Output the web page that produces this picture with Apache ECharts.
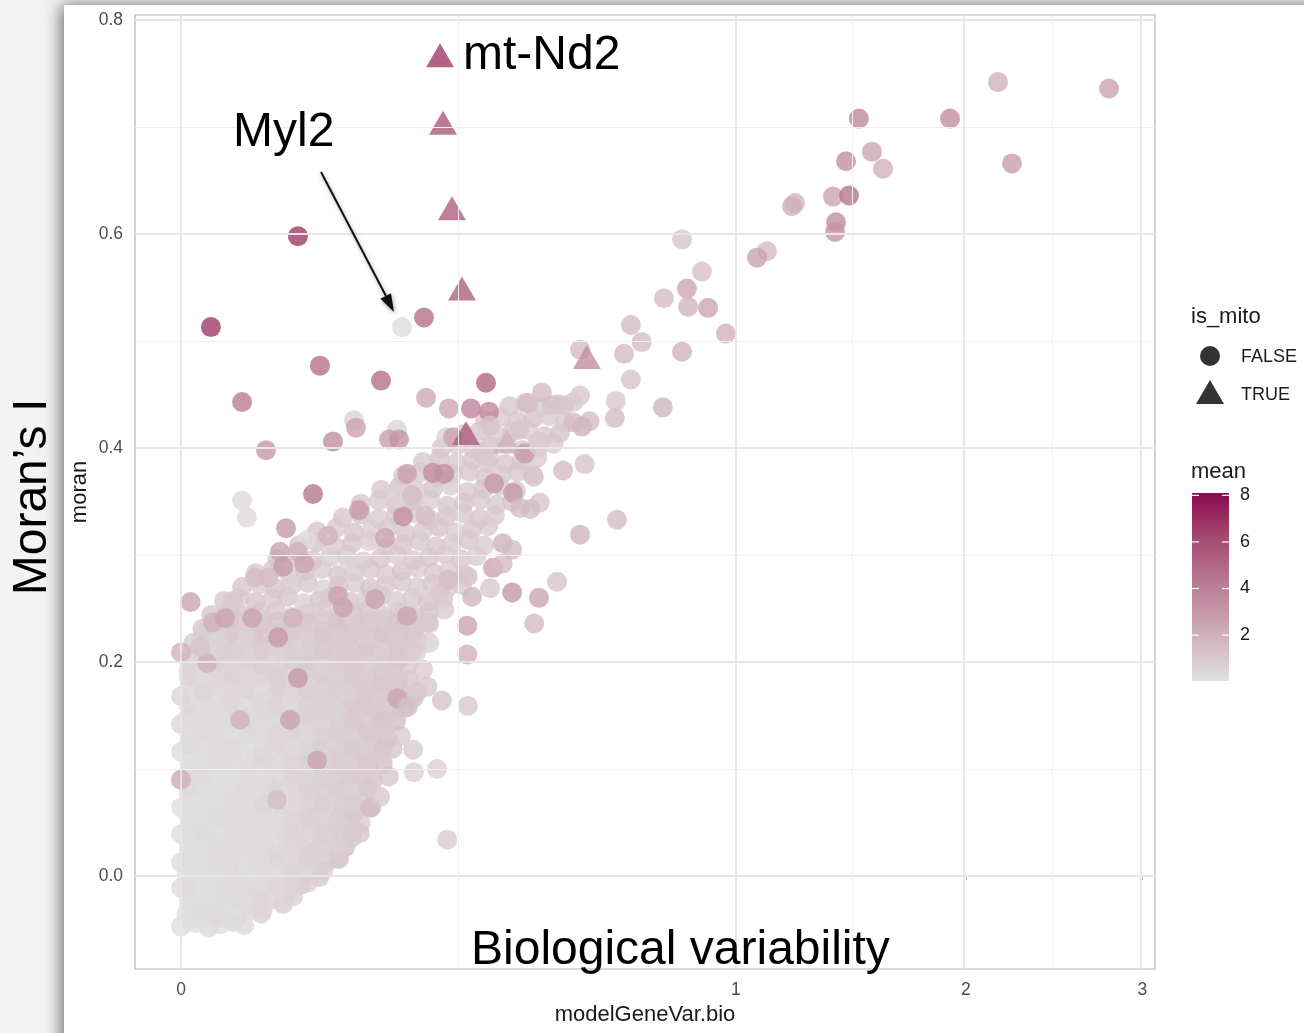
<!DOCTYPE html>
<html>
<head>
<meta charset="utf-8">
<script src="https://cdn.jsdelivr.net/npm/echarts@6/dist/echarts.min.js"></script>
<style>html,body{margin:0;padding:0;background:#f3f3f3}#chart{width:1304px;height:1033px}</style>
</head>
<body>
<div id="chart"></div>
<script>
// [modelGeneVar.bio, moran, mean]
const cloudGenes = [
[0,-0.047,0.2],[0.0007,-0.044,0.1],[0.0025,-0.048,0.3],[0.005,-0.045,0.2],[0.009,-0.043,0.4],[0.013,-0.046,0.3],
[0.0001,-0.036,0.1],[0.0012,-0.033,0.2],[0.0032,-0.037,0.2],[0.0062,-0.034,0.3],[0.0105,-0.036,0.5],[0.016,-0.032,0.3],[0.021,-0.035,0.6],
[0.0002,-0.022,0.2],[0.0016,-0.026,0.1],[0.0041,-0.023,0.3],[0.0078,-0.025,0.2],[0.0128,-0.021,0.4],[0.019,-0.024,0.6],[0.026,-0.022,0.5],[0.034,-0.026,0.9],
[0,-0.011,0.2],[0.0009,-0.014,0.3],[0.0026,-0.01,0.1],[0.0052,-0.013,0.2],[0.0093,-0.009,0.4],[0.0148,-0.012,0.3],[0.0212,-0.015,0.5],[0.029,-0.01,0.7],[0.038,-0.013,0.6],[0.047,-0.008,1.0],
[0.0001,0.002,0.1],[0.0013,-0.002,0.2],[0.0031,0.001,0.3],[0.0066,-0.001,0.2],[0.011,0.003,0.5],[0.0172,0.0,0.3],[0.0243,0.002,0.6],[0.0318,-0.002,0.4],[0.041,0.001,0.8],[0.052,0.004,0.7],[0.062,-0.001,1.2],
[0,0.013,0.2],[0.0005,0.01,0.3],[0.0021,0.015,0.1],[0.0046,0.011,0.3],[0.0081,0.014,0.2],[0.0132,0.009,0.5],[0.0192,0.012,0.4],[0.0268,0.016,0.3],[0.0362,0.011,0.6],[0.0458,0.014,0.9],[0.057,0.01,0.7],[0.069,0.013,1.0],[0.081,0.016,1.3],
[0.0002,0.024,0.1],[0.0015,0.027,0.2],[0.0036,0.023,0.4],[0.0066,0.026,0.2],[0.0108,0.022,0.3],[0.0163,0.027,0.5],[0.0231,0.025,0.3],[0.0309,0.022,0.7],[0.0398,0.027,0.5],[0.0502,0.024,0.8],[0.0618,0.026,1.1],[0.0745,0.023,0.6],[0.0875,0.027,1.4],
[0,0.039,0.2],[0.0008,0.036,0.1],[0.0024,0.04,0.3],[0.0051,0.037,0.2],[0.0089,0.041,0.4],[0.0138,0.035,0.3],[0.0201,0.038,0.6],[0.0278,0.041,0.4],[0.0369,0.036,0.5],[0.0472,0.039,0.9],[0.0583,0.042,0.7],[0.0702,0.037,1.2],[0.0828,0.04,0.8],[0.0951,0.036,1.0],
[0.0003,0.051,0.3],[0.0018,0.048,0.1],[0.0041,0.052,0.2],[0.0074,0.049,0.4],[0.0121,0.053,0.2],[0.0178,0.047,0.5],[0.0249,0.05,0.3],[0.0332,0.053,0.6],[0.0428,0.048,0.5],[0.0538,0.052,1.1],[0.0661,0.049,0.7],[0.0789,0.051,0.9],[0.0921,0.054,1.3],[0.1048,0.049,0.8],
[0,0.064,0.1],[0.001,0.061,0.2],[0.003,0.066,0.3],[0.006,0.062,0.2],[0.0102,0.065,0.3],[0.0153,0.06,0.4],[0.0221,0.063,0.2],[0.0298,0.067,0.5],[0.0391,0.061,0.7],[0.0489,0.064,0.4],[0.0601,0.066,0.9],[0.0722,0.062,0.6],[0.0858,0.065,1.2],[0.1002,0.061,0.9],[0.1175,0.064,1.5],
[0.0002,0.077,0.2],[0.0021,0.074,0.3],[0.0046,0.078,0.1],[0.0081,0.075,0.3],[0.0131,0.079,0.4],[0.0192,0.073,0.2],[0.0268,0.076,0.6],[0.0352,0.079,0.4],[0.0451,0.074,0.8],[0.0562,0.077,0.5],[0.0681,0.08,1.0],[0.0812,0.075,0.7],[0.0948,0.078,1.1],[0.1102,0.073,0.9],
[0,0.09,0.2],[0.0011,0.087,0.1],[0.0031,0.091,0.3],[0.0062,0.088,0.2],[0.0108,0.092,0.5],[0.0171,0.086,0.3],[0.0241,0.089,0.4],[0.0319,0.093,0.7],[0.0412,0.087,0.5],[0.0511,0.09,0.6],[0.0628,0.092,1.1],[0.0762,0.088,0.8],[0.0901,0.091,1.3],[0.1048,0.087,0.9],[0.1198,0.09,1.2],[0.1402,0.093,1.0],
[0.0004,0.101,0.3],[0.0022,0.104,0.2],[0.0051,0.1,0.1],[0.0092,0.103,0.4],[0.0142,0.099,0.3],[0.0209,0.105,0.5],[0.0289,0.101,0.3],[0.0381,0.104,0.6],[0.0482,0.099,0.8],[0.0591,0.103,0.5],[0.0712,0.106,1.0],[0.0851,0.1,0.7],[0.0998,0.104,1.2],[0.1151,0.101,0.9],[0.1322,0.105,1.4],
[0,0.116,0.2],[0.0012,0.113,0.1],[0.0036,0.117,0.3],[0.0071,0.114,0.2],[0.0119,0.118,0.4],[0.0182,0.112,0.6],[0.0258,0.115,0.3],[0.0342,0.119,0.5],[0.0441,0.113,0.9],[0.0552,0.116,0.6],[0.0671,0.118,0.8],[0.0802,0.114,1.3],[0.0941,0.117,0.7],[0.1101,0.113,1.1],[0.1258,0.116,0.9],[0.1452,0.119,1.2],
[0.0003,0.127,0.3],[0.0021,0.13,0.2],[0.0049,0.126,0.4],[0.0095,0.129,0.2],[0.0151,0.131,0.5],[0.0219,0.125,0.3],[0.0301,0.128,0.7],[0.0398,0.131,0.4],[0.0502,0.126,0.6],[0.0621,0.129,1.0],[0.0752,0.132,0.7],[0.0889,0.127,1.2],[0.1041,0.13,0.8],[0.1201,0.126,1.0],[0.1382,0.129,1.3],[0.1571,0.131,0.9],
[0,0.142,0.4],[0.001,0.139,0.2],[0.0031,0.143,0.3],[0.0066,0.14,0.5],[0.0112,0.144,0.2],[0.0171,0.138,0.4],[0.0249,0.141,0.6],[0.0338,0.144,0.3],[0.0442,0.139,0.8],[0.0551,0.142,0.5],[0.0679,0.145,1.1],[0.0821,0.14,0.7],[0.0968,0.143,1.4],[0.1131,0.138,0.9],[0.1302,0.142,1.1],[0.1501,0.145,1.5],
[0.0005,0.153,0.3],[0.0025,0.156,0.5],[0.0056,0.152,0.2],[0.0101,0.155,0.4],[0.0158,0.157,0.3],[0.0231,0.151,0.6],[0.0311,0.154,0.4],[0.0409,0.157,0.7],[0.0521,0.152,0.5],[0.0641,0.155,0.9],[0.0771,0.158,0.6],[0.0919,0.153,1.2],[0.1081,0.156,0.8],[0.1252,0.152,1.4],[0.1431,0.155,1.0],[0.1631,0.157,1.2],
[0,0.168,0.5],[0.0015,0.165,0.3],[0.0041,0.169,0.2],[0.0079,0.166,0.6],[0.0131,0.17,0.3],[0.0199,0.164,0.5],[0.0281,0.167,0.8],[0.0371,0.17,0.4],[0.0469,0.165,0.7],[0.0582,0.168,0.5],[0.0712,0.171,1.0],[0.0851,0.166,0.7],[0.0999,0.169,1.3],[0.1162,0.165,0.9],[0.1341,0.168,1.1],[0.1548,0.17,0.8],[0.1752,0.166,1.3],
[0.0008,0.179,0.4],[0.003,0.182,0.6],[0.0066,0.178,0.3],[0.0111,0.181,0.5],[0.0171,0.183,0.8],[0.0251,0.177,0.4],[0.0341,0.18,0.6],[0.0441,0.183,0.9],[0.0551,0.178,0.5],[0.0682,0.181,1.1],[0.0821,0.184,0.7],[0.0971,0.179,1.2],[0.1131,0.182,0.9],[0.1311,0.178,1.4],[0.1502,0.181,1.0],[0.1701,0.183,1.2],
[0.0002,0.192,0.6],[0.0021,0.195,0.4],[0.0051,0.191,0.8],[0.0095,0.194,0.5],[0.0151,0.196,0.7],[0.0221,0.19,0.4],[0.0311,0.193,0.9],[0.0411,0.196,0.6],[0.0521,0.191,1.0],[0.0651,0.194,0.7],[0.0791,0.197,1.2],[0.0941,0.192,0.8],[0.1102,0.195,1.1],[0.1281,0.191,0.9],[0.1471,0.194,1.3],[0.1682,0.197,1.0],[0.1902,0.193,0.8],
[0.001,0.205,0.7],[0.0035,0.208,0.5],[0.0071,0.204,0.9],[0.0121,0.207,0.6],[0.0191,0.209,0.8],[0.0271,0.203,0.5],[0.0361,0.206,1.0],[0.0471,0.209,0.7],[0.0591,0.204,1.1],[0.0721,0.207,0.8],[0.0871,0.21,1.3],[0.1031,0.205,0.9],[0.1201,0.208,1.2],[0.1391,0.204,0.8],[0.1602,0.207,1.0],[0.1801,0.21,0.7],
[0.0005,0.218,0.9],[0.0025,0.221,0.6],[0.006,0.217,1.1],[0.011,0.22,0.7],[0.0171,0.222,1.3],[0.0251,0.216,0.8],[0.0341,0.219,1.0],[0.0441,0.222,0.6],[0.0561,0.217,1.2],[0.0701,0.22,0.9],[0.0851,0.223,1.4],[0.1001,0.218,1.0],[0.1181,0.221,1.2],[0.1371,0.217,0.8],[0.1581,0.22,1.1],[0.1801,0.222,0.9],[0.2001,0.218,0.7],
[0.0015,0.231,1.0],[0.0045,0.234,0.7],[0.0091,0.23,1.2],[0.0151,0.233,0.8],[0.0221,0.235,1.1],[0.0311,0.229,0.6],[0.0421,0.232,1.0],[0.0541,0.235,0.7],[0.0671,0.23,1.3],[0.0821,0.233,0.9],[0.0981,0.236,1.2],[0.1161,0.231,0.8],[0.1351,0.234,1.1],[0.1561,0.23,0.9],[0.1781,0.233,1.0],[0.2001,0.236,0.8],
[0.003,0.244,1.1],[0.0071,0.247,0.8],[0.0131,0.243,1.3],[0.0201,0.246,0.9],[0.0291,0.248,1.0],[0.0391,0.242,0.7],[0.0511,0.245,1.2],[0.0641,0.248,0.8],[0.0791,0.243,1.1],[0.0951,0.246,0.9],[0.1131,0.249,1.3],[0.1331,0.244,0.8],[0.1541,0.247,1.0],[0.1771,0.243,0.9],[0.2001,0.246,1.1],[0.2251,0.249,0.8],
[0.006,0.257,1.0],[0.0111,0.26,0.8],[0.0181,0.256,1.2],[0.0271,0.259,0.9],[0.0371,0.261,1.1],[0.0491,0.255,0.7],[0.0621,0.258,1.0],[0.0771,0.261,0.8],[0.0931,0.256,1.2],[0.1111,0.259,0.9],[0.1301,0.262,1.1],[0.1511,0.257,0.8],[0.1741,0.26,1.0],[0.1981,0.256,1.2],[0.2231,0.259,0.9],
[0.0121,0.27,1.1],[0.0201,0.273,0.8],[0.0291,0.269,1.2],[0.0401,0.272,0.9],[0.0521,0.274,1.0],[0.0661,0.268,0.7],[0.0811,0.271,1.1],[0.0981,0.274,0.8],[0.1161,0.269,1.2],[0.1361,0.272,0.9],[0.1581,0.275,1.0],[0.1811,0.27,0.8],[0.2051,0.273,1.1],[0.2301,0.269,0.9],[0.2561,0.272,1.0],
[0.0181,0.283,1.0],[0.0271,0.286,1.2],[0.0381,0.282,0.8],[0.0501,0.285,1.1],[0.0641,0.287,0.9],[0.0801,0.281,1.2],[0.0971,0.284,0.8],[0.1161,0.287,1.0],[0.1361,0.282,0.9],[0.1581,0.285,1.2],[0.1821,0.288,0.8],[0.2071,0.283,1.0],[0.2331,0.286,0.9],[0.2601,0.282,1.1],
[0.0301,0.296,1.1],[0.0421,0.299,0.9],[0.0561,0.295,1.2],[0.0721,0.298,0.8],[0.0891,0.3,1.0],[0.1081,0.294,0.9],[0.1291,0.297,1.1],[0.1511,0.3,0.8],[0.1751,0.295,1.0],[0.2001,0.298,1.2],[0.2261,0.301,0.9],[0.2541,0.296,1.0],[0.2831,0.299,0.8],
[0.0451,0.309,1.0],[0.0601,0.312,1.2],[0.0771,0.308,0.9],[0.0951,0.311,1.1],[0.1151,0.313,0.8],[0.1371,0.307,1.0],[0.1601,0.31,1.2],[0.1851,0.313,0.9],[0.2111,0.308,1.0],[0.2391,0.311,0.8],[0.2681,0.314,1.1],[0.2981,0.309,0.9],
[0.0601,0.322,1.1],[0.0781,0.325,0.9],[0.0971,0.321,1.2],[0.1181,0.324,0.8],[0.1401,0.326,1.0],[0.1641,0.32,1.1],[0.1901,0.323,0.9],[0.2171,0.326,1.2],[0.2451,0.321,0.8],[0.2751,0.324,1.0],[0.3061,0.327,0.9],
[0.0851,0.335,1.0],[0.1051,0.338,1.2],[0.1271,0.334,0.9],[0.1501,0.337,1.1],[0.1751,0.339,0.8],[0.2011,0.333,1.0],[0.2291,0.336,1.2],[0.2581,0.339,0.9],[0.2891,0.334,1.1],[0.3201,0.337,0.8],
[0.1051,0.348,1.1],[0.1271,0.351,0.9],[0.1501,0.347,1.0],[0.1751,0.35,1.2],[0.2021,0.352,0.8],[0.2301,0.346,1.0],[0.2601,0.349,1.1],[0.2911,0.352,0.9],[0.3231,0.347,1.0],[0.3561,0.35,1.2],
[0.1301,0.361,1.0],[0.1551,0.364,1.2],[0.1801,0.36,0.9],[0.2071,0.363,1.1],[0.2361,0.365,0.8],[0.2661,0.359,1.0],[0.2971,0.362,1.2],[0.3301,0.365,0.9],[0.3641,0.36,1.1],
[0.1601,0.374,1.1],[0.1851,0.377,0.9],[0.2121,0.373,1.2],[0.2401,0.376,0.8],[0.2701,0.378,1.0],[0.3011,0.372,1.1],[0.3341,0.375,0.9],[0.3681,0.378,1.0],[0.4041,0.373,1.2],
[0.1901,0.387,1.0],[0.2171,0.39,1.2],[0.2461,0.386,0.9],[0.2761,0.389,1.1],[0.3081,0.391,0.8],[0.3411,0.385,1.0],[0.3761,0.388,1.2],[0.4121,0.391,0.9],
[0.2201,0.4,1.1],[0.2481,0.403,0.9],[0.2781,0.399,1.0],[0.3101,0.402,1.2],[0.3431,0.404,0.8],[0.3781,0.398,1.0],[0.4141,0.401,1.1],[0.4501,0.404,0.9],
[0.2601,0.413,1.0],[0.2901,0.416,1.2],[0.3221,0.412,0.9],[0.3561,0.415,1.1],[0.3911,0.417,0.8],[0.4281,0.411,1.0],[0.4661,0.414,1.2],
[0.3001,0.426,1.1],[0.3331,0.429,0.9],[0.3671,0.425,1.0],[0.4031,0.428,1.2],[0.4401,0.43,0.8],[0.4781,0.424,1.0],
[0.3501,0.439,1.0],[0.3851,0.442,1.2],[0.4221,0.438,0.9],[0.4601,0.441,1.1],[0.5001,0.443,0.8]
];
const cloudGenesB = [
[0.0002,-0.040,0.2],[0.0016,-0.041,0.1],[0.0045,-0.039,0.3],[0.0088,-0.042,0.2],
[0.0002,-0.029,0.1],[0.0016,-0.031,0.3],[0.0045,-0.028,0.2],[0.0088,-0.030,0.1],[0.0146,-0.027,0.3],[0.0219,-0.030,0.4],
[0.0002,-0.017,0.2],[0.0016,-0.019,0.1],[0.0045,-0.016,0.2],[0.0088,-0.02,0.3],[0.0146,-0.017,0.2],[0.0219,-0.019,0.4],[0.0306,-0.016,0.3],[0.0408,-0.019,0.6],
[0.0002,-0.006,0.3],[0.0016,-0.004,0.1],[0.0045,-0.007,0.2],[0.0088,-0.005,0.2],[0.0146,-0.008,0.3],[0.0219,-0.005,0.2],[0.0306,-0.007,0.4],[0.0408,-0.004,0.5],[0.0524,-0.006,0.7],
[0.0002,0.007,0.1],[0.0016,0.005,0.2],[0.0045,0.008,0.2],[0.0088,0.005,0.3],[0.0146,0.007,0.1],[0.0219,0.004,0.3],[0.0306,0.007,0.2],[0.0408,0.005,0.5],[0.0524,0.008,0.4],[0.0655,0.005,0.8],
[0.0002,0.018,0.2],[0.0016,0.02,0.1],[0.0045,0.017,0.3],[0.0088,0.02,0.2],[0.0146,0.018,0.2],[0.0219,0.021,0.3],[0.0306,0.017,0.4],[0.0408,0.02,0.3],[0.0524,0.018,0.6],[0.0655,0.021,0.5],[0.0801,0.018,0.9],
[0.0002,0.03,0.1],[0.0016,0.032,0.2],[0.0045,0.029,0.2],[0.0088,0.033,0.3],[0.0146,0.03,0.2],[0.0219,0.032,0.2],[0.0306,0.029,0.3],[0.0408,0.033,0.4],[0.0524,0.03,0.5],[0.0655,0.032,0.6],[0.0801,0.029,0.7],
[0.0002,0.045,0.2],[0.0016,0.043,0.3],[0.0045,0.046,0.1],[0.0088,0.043,0.2],[0.0146,0.045,0.3],[0.0219,0.042,0.2],[0.0306,0.046,0.3],[0.0408,0.043,0.5],[0.0524,0.045,0.4],[0.0655,0.042,0.6],[0.0801,0.046,0.8],[0.0961,0.043,0.9],
[0.0002,0.056,0.1],[0.0016,0.058,0.2],[0.0045,0.055,0.3],[0.0088,0.058,0.2],[0.0146,0.056,0.2],[0.0219,0.059,0.3],[0.0306,0.055,0.2],[0.0408,0.058,0.4],[0.0524,0.056,0.6],[0.0655,0.059,0.5],[0.0801,0.055,0.7],[0.0961,0.058,1.0],
[0.0002,0.071,0.2],[0.0016,0.069,0.1],[0.0045,0.072,0.2],[0.0088,0.069,0.3],[0.0146,0.071,0.2],[0.0219,0.068,0.4],[0.0306,0.072,0.3],[0.0408,0.069,0.3],[0.0524,0.071,0.5],[0.0655,0.068,0.7],[0.0801,0.072,0.6],[0.0961,0.069,0.8],
[0.0002,0.082,0.3],[0.0016,0.084,0.2],[0.0045,0.081,0.1],[0.0088,0.084,0.2],[0.0146,0.082,0.3],[0.0219,0.085,0.2],[0.0306,0.081,0.4],[0.0408,0.084,0.3],[0.0524,0.082,0.6],[0.0655,0.085,0.5],[0.0801,0.081,0.8],[0.0961,0.084,0.6],[0.1136,0.082,1.0],
[0.0002,0.097,0.2],[0.0016,0.095,0.3],[0.0045,0.098,0.2],[0.0088,0.095,0.1],[0.0146,0.097,0.3],[0.0219,0.094,0.2],[0.0306,0.098,0.3],[0.0408,0.095,0.5],[0.0524,0.097,0.4],[0.0655,0.094,0.6],[0.0801,0.098,0.7],[0.0961,0.095,0.9],[0.1136,0.097,0.8],
[0.0002,0.108,0.1],[0.0016,0.11,0.2],[0.0045,0.107,0.3],[0.0088,0.11,0.2],[0.0146,0.108,0.2],[0.0219,0.111,0.4],[0.0306,0.107,0.3],[0.0408,0.11,0.4],[0.0524,0.108,0.6],[0.0655,0.111,0.5],[0.0801,0.107,0.8],[0.0961,0.11,0.7],[0.1136,0.108,1.0],
[0.0002,0.123,0.3],[0.0016,0.121,0.2],[0.0045,0.124,0.2],[0.0088,0.121,0.3],[0.0146,0.123,0.1],[0.0219,0.12,0.3],[0.0306,0.124,0.4],[0.0408,0.121,0.3],[0.0524,0.123,0.5],[0.0655,0.12,0.7],[0.0801,0.124,0.6],[0.0961,0.121,0.9],[0.1136,0.123,0.8],[0.1325,0.12,1.1],
[0.0002,0.134,0.2],[0.0016,0.136,0.3],[0.0045,0.133,0.2],[0.0088,0.136,0.1],[0.0146,0.134,0.3],[0.0219,0.137,0.2],[0.0306,0.133,0.4],[0.0408,0.136,0.5],[0.0524,0.134,0.4],[0.0655,0.137,0.6],[0.0801,0.133,0.8],[0.0961,0.136,0.7],[0.1136,0.134,1.0],[0.1325,0.137,0.9],
[0.0002,0.149,0.3],[0.0016,0.147,0.2],[0.0045,0.15,0.3],[0.0088,0.147,0.2],[0.0146,0.149,0.4],[0.0219,0.146,0.3],[0.0306,0.15,0.3],[0.0408,0.147,0.5],[0.0524,0.149,0.6],[0.0655,0.146,0.5],[0.0801,0.15,0.7],[0.0961,0.147,0.9],[0.1136,0.149,0.8],[0.1325,0.146,1.1],
[0.0002,0.16,0.4],[0.0016,0.162,0.2],[0.0045,0.159,0.3],[0.0088,0.162,0.4],[0.0146,0.16,0.2],[0.0219,0.163,0.4],[0.0306,0.159,0.5],[0.0408,0.162,0.3],[0.0524,0.16,0.6],[0.0655,0.163,0.7],[0.0801,0.159,0.6],[0.0961,0.162,0.9],[0.1136,0.16,1.0],[0.1325,0.163,0.8],[0.1529,0.16,1.1],
[0.0002,0.175,0.3],[0.0016,0.173,0.5],[0.0045,0.176,0.3],[0.0088,0.173,0.4],[0.0146,0.175,0.5],[0.0219,0.172,0.3],[0.0306,0.176,0.6],[0.0408,0.173,0.4],[0.0524,0.175,0.7],[0.0655,0.172,0.6],[0.0801,0.176,0.8],[0.0961,0.173,0.7],[0.1136,0.175,1.0],[0.1325,0.172,0.9],[0.1529,0.176,1.0],
[0.0002,0.186,0.5],[0.0016,0.188,0.3],[0.0045,0.185,0.4],[0.0088,0.188,0.6],[0.0146,0.186,0.4],[0.0219,0.189,0.5],[0.0306,0.185,0.7],[0.0408,0.188,0.5],[0.0524,0.186,0.6],[0.0655,0.189,0.8],[0.0801,0.185,0.7],[0.0961,0.188,0.9],[0.1136,0.186,0.8],[0.1325,0.189,1.0],[0.1529,0.185,0.9],
[0.0002,0.201,0.6],[0.0016,0.199,0.4],[0.0045,0.202,0.7],[0.0088,0.199,0.5],[0.0146,0.201,0.6],[0.0219,0.198,0.8],[0.0306,0.202,0.5],[0.0408,0.199,0.7],[0.0524,0.201,0.9],[0.0655,0.198,0.6],[0.0801,0.202,0.8],[0.0961,0.199,1.0],[0.1136,0.201,0.7],[0.1325,0.198,0.9],[0.1529,0.202,1.1],
[0.0016,0.212,0.7],[0.0045,0.214,0.5],[0.0088,0.211,0.8],[0.0146,0.214,0.6],[0.0219,0.212,0.9],[0.0306,0.215,0.6],[0.0408,0.211,0.8],[0.0524,0.214,0.7],[0.0655,0.212,1.0],[0.0801,0.215,0.8],[0.0961,0.211,0.9],[0.1136,0.214,1.1],[0.1325,0.212,0.8],[0.1529,0.215,1.0],[0.1747,0.211,0.9],
[0.0016,0.227,0.8],[0.0045,0.225,0.6],[0.0088,0.228,0.9],[0.0146,0.225,0.7],[0.0219,0.227,1.0],[0.0306,0.224,0.7],[0.0408,0.228,0.9],[0.0524,0.225,0.8],[0.0655,0.227,1.1],[0.0801,0.224,0.8],[0.0961,0.228,1.0],[0.1136,0.225,0.9],[0.1325,0.227,1.2],[0.1529,0.224,0.9],[0.1747,0.228,1.0],
[0.0045,0.238,0.8],[0.0088,0.24,1.0],[0.0146,0.237,0.7],[0.0219,0.24,0.9],[0.0306,0.238,1.1],[0.0408,0.241,0.8],[0.0524,0.237,1.0],[0.0655,0.24,0.9],[0.0801,0.238,1.2],[0.0961,0.241,0.8],[0.1136,0.237,1.0],[0.1325,0.24,0.9],[0.1529,0.238,1.1],[0.1747,0.241,0.9],[0.198,0.237,1.0]
];
const flaggedGenes = [
[2.796,0.736,2.6],[2.167,0.742,2.0],[2.242,0.666,2.8],[1.920,0.708,3.4],[1.492,0.708,3.6],[1.550,0.677,2.4],
[1.600,0.661,2.0],[1.436,0.668,3.4],[1.380,0.635,2.6],[1.449,0.636,4.4],[1.393,0.611,3.4],[1.389,0.602,3.2],
[1.224,0.629,1.8],[1.212,0.626,2.0],[1.115,0.584,1.6],[1.077,0.578,2.6],[0.815,0.595,1.2],[0.881,0.565,1.4],
[0.831,0.549,2.4],[0.757,0.540,1.5],[0.835,0.532,1.8],[0.902,0.531,2.4],[0.964,0.507,2.0],[0.815,0.490,2.0],
[0.689,0.499,1.5],[0.657,0.515,1.5],[0.637,0.488,1.5],[0.657,0.464,1.2],[0.614,0.444,1.0],[0.611,0.428,1.5],
[0.754,0.438,1.8],
[0.517,0.492,1.6],[0.542,0.425,1.5],[0.499,0.424,1.5],[0.522,0.420,1.8],[0.517,0.449,1.0],[0.447,0.440,1.2],
[0.476,0.440,1.2],[0.423,0.452,1.5],[0.391,0.442,1.5],[0.414,0.406,1.0],[0.371,0.417,1.2],[0.384,0.395,3.0],
[0.416,0.402,0.8],[0.402,0.375,1.2],[0.474,0.379,1.5],[0.529,0.385,1.2],[0.290,0.396,1.0],[0.304,0.386,1.0],
[0.318,0.367,3.0],[0.358,0.358,3.0],[0.373,0.344,1.5],[0.418,0.349,1.2],[0.396,0.343,1.5],[0.336,0.311,2.0],
[0.356,0.305,1.5],[0.316,0.288,2.5],[0.336,0.292,1.5],[0.517,0.319,1.8],[0.617,0.333,1.5],[0.459,0.275,1.2],
[0.416,0.260,2.6],[0.405,0.236,1.6],[0.356,0.265,3.0],[0.310,0.269,1.0],[0.267,0.280,1.2],[0.275,0.261,1.8],
[0.266,0.234,2.6],[0.266,0.207,2.0],[0.267,0.159,1.0],[0.230,0.034,0.9],[0.213,0.100,0.7],[0.176,0.097,0.7],
[0.175,0.118,0.8],[0.221,0.164,1.2],[0.197,0.177,1.0],[0.181,0.172,1.0],[0.152,0.166,2.6],[0.167,0.158,1.4],
[0.218,0.265,1.0],[0.232,0.277,1.5],
[0.0444,0.598,6.6],[0.0029,0.513,6.6],[0.1917,0.522,4.6],[0.1586,0.513,0.2],[0.0627,0.477,4.6],[0.1299,0.463,4.6],
[0.0121,0.443,4.2],[0.0235,0.398,3.0],[0.302,0.461,5.0],[0.195,0.447,2.2],[0.233,0.437,2.4],[0.273,0.437,3.8],
[0.308,0.434,3.6],[0.310,0.421,1.2],[0.0972,0.426,0.6],[0.0994,0.419,2.6],[0.0750,0.406,3.4],[0.1515,0.417,0.5],
[0.1405,0.408,2.8],[0.1543,0.408,3.2],[0.2280,0.410,0.6],[0.2402,0.410,2.6],[0.166,0.376,2.8],[0.206,0.377,3.4],
[0.225,0.376,3.4],[0.0566,0.357,4.4],[0.0121,0.351,0.3],[0.0141,0.335,0.3],[0.1029,0.342,3.0],[0.0358,0.325,3.0],
[0.0702,0.318,2.0],[0.0515,0.314,0.3],[0.160,0.336,3.4],[0.1515,0.353,0.6],[0.1732,0.356,1.5],[0.1351,0.316,2.6],
[0.1933,0.337,1.5],[0.0318,0.303,2.6],[0.0444,0.303,2.0],[0.0338,0.289,3.0],[0.0491,0.292,2.6],[0.0178,0.279,1.5],
[0.0246,0.279,1.5],[0.0003,0.256,2.6],[0.0088,0.257,1.0],[0.0905,0.295,0.5],[0.0033,0.237,2.0],[0.0063,0.241,2.6],
[0.0164,0.241,2.6],[0.0407,0.241,2.0],[0.0306,0.223,3.0],[0.0721,0.260,1.0],[0.0800,0.262,2.6],[0.0852,0.251,2.6],
[0.1222,0.259,2.6],[0.1658,0.243,2.6],[0.0444,0.185,3.0],[0.0000,0.209,2.0],[0.0022,0.199,2.0],[0.0012,0.214,1.2],
[0.0000,0.090,2.0],[0.0386,0.146,2.6],[0.0601,0.108,2.6],[0.0113,0.146,2.0],[0.116,0.064,1.5],[0.1286,0.074,1.0],
[0.1040,0.040,1.0],[0.0299,0.071,1.5]
];
const mitoGenes = [
[0.2178,0.767,6.6],[0.2229,0.704,5.6],[0.2384,0.624,5.2],[0.2563,0.549,5.2],[0.535,0.485,3.4],[0.2637,0.414,5.4],[0.345,0.406,2.0]
];
const xBreaks = [0, 1, 2, 3];
const yBreaks = [0, 0.2, 0.4, 0.6, 0.8];
const yMinorBreaks = [0.1, 0.3, 0.5, 0.7];
const meanBreaks = [2, 4, 6, 8];
const meanColors = ['#E0E0E0', '#CFAFBA', '#BB7E95', '#A54D71', '#8B0A50'];
const meanRange = [0.03, 8.1];

const FONT = '"Liberation Sans", Arial, Helvetica, sans-serif';
const toPlot = d => [Math.sqrt(d[0]), d[1], d[2]];
const sqrtBreaks = xBreaks.map(Math.sqrt);
const xMinor = [];
for (let i = 0; i < sqrtBreaks.length - 1; i++) xMinor.push((sqrtBreaks[i] + sqrtBreaks[i + 1]) / 2);

const gridLines = [];
yBreaks.forEach(v => gridLines.push({ yAxis: v, lineStyle: { color: '#e6e6e6', width: 1.8, type: 'solid' } }));
yMinorBreaks.forEach(v => gridLines.push({ yAxis: v, lineStyle: { color: '#efefef', width: 1, type: 'solid' } }));
sqrtBreaks.forEach(v => gridLines.push({ xAxis: v, lineStyle: { color: '#e6e6e6', width: 1.8, type: 'solid' } }));
xMinor.forEach(v => gridLines.push({ xAxis: v, lineStyle: { color: '#efefef', width: 1, type: 'solid' } }));

const G = { left: 135, top: 15, right: 1155, bottom: 969 };
const bar = { x: 1192, y: 493, w: 37, h: 188 };
const barY = v => bar.y + (meanRange[1] - v) / (meanRange[1] - meanRange[0]) * bar.h;

const graphics = [
  { type: 'rect', z: -100, shape: { x: 64, y: 5, width: 1300, height: 1100 },
    style: { fill: '#ffffff', shadowBlur: 16, shadowColor: 'rgba(0,0,0,0.55)', shadowOffsetX: -3 } },
  { type: 'text', z: 50, x: 645, y: 1015, style: { text: 'modelGeneVar.bio', font: '22px ' + FONT, fill: '#1a1a1a', align: 'center', verticalAlign: 'middle' } },
  { type: 'text', z: 50, x: 80, y: 492, rotation: Math.PI / 2, style: { text: 'moran', font: '22px ' + FONT, fill: '#1a1a1a', align: 'center', verticalAlign: 'middle' } },
  { type: 'text', z: 50, x: 1191, y: 317, style: { text: 'is_mito', font: '22px ' + FONT, fill: '#1a1a1a', align: 'left', verticalAlign: 'middle' } },
  { type: 'circle', z: 50, shape: { cx: 1210, cy: 356, r: 10 }, style: { fill: '#333' } },
  { type: 'text', z: 50, x: 1241, y: 357, style: { text: 'FALSE', font: '18px ' + FONT, fill: '#1a1a1a', align: 'left', verticalAlign: 'middle' } },
  { type: 'polygon', z: 50, shape: { points: [[1210, 380], [1224, 404], [1196, 404]] }, style: { fill: '#333' } },
  { type: 'text', z: 50, x: 1241, y: 395, style: { text: 'TRUE', font: '18px ' + FONT, fill: '#1a1a1a', align: 'left', verticalAlign: 'middle' } },
  { type: 'text', z: 50, x: 1191, y: 472, style: { text: 'mean', font: '22px ' + FONT, fill: '#1a1a1a', align: 'left', verticalAlign: 'middle' } },
  { type: 'rect', z: 50, shape: { x: bar.x, y: bar.y, width: bar.w, height: bar.h },
    style: { fill: new echarts.graphic.LinearGradient(0, 1, 0, 0, meanColors.map((c, i) => ({ offset: i / (meanColors.length - 1), color: c }))) } },
  { type: 'text', z: 60, x: 33, y: 497, rotation: Math.PI / 2, style: { text: 'Moran\u2019s I', font: '48px ' + FONT, fill: '#000', align: 'center', verticalAlign: 'middle' } },
  { type: 'text', z: 60, x: 471, y: 951, style: { text: 'Biological variability', font: '48px ' + FONT, fill: '#000', align: 'left', verticalAlign: 'middle' } },
  { type: 'text', z: 60, x: 233, y: 133, style: { text: 'Myl2', font: '48px ' + FONT, fill: '#000', align: 'left', verticalAlign: 'middle' } },
  { type: 'text', z: 60, x: 463, y: 56, style: { text: 'mt-Nd2', font: '48px ' + FONT, fill: '#000', align: 'left', verticalAlign: 'middle' } },
  { type: 'line', z: 60, shape: { x1: 321, y1: 172, x2: 386, y2: 296 },
    style: { stroke: '#111', lineWidth: 2, shadowBlur: 4, shadowColor: 'rgba(0,0,0,0.35)', shadowOffsetX: 1, shadowOffsetY: 2 } },
  { type: 'polygon', z: 60, shape: { points: [[394, 312], [380.4, 298.8], [391.0, 293.2]] },
    style: { fill: '#111', shadowBlur: 4, shadowColor: 'rgba(0,0,0,0.35)', shadowOffsetX: 1, shadowOffsetY: 2 } }
];
meanBreaks.forEach(v => {
  const y = barY(v);
  graphics.push({ type: 'line', z: 51, shape: { x1: bar.x, y1: y, x2: bar.x + 7, y2: y }, style: { stroke: '#fff', lineWidth: 1.2 } });
  graphics.push({ type: 'line', z: 51, shape: { x1: bar.x + bar.w - 7, y1: y, x2: bar.x + bar.w, y2: y }, style: { stroke: '#fff', lineWidth: 1.2 } });
  graphics.push({ type: 'text', z: 51, x: 1240, y: y, style: { text: String(v), font: '18px ' + FONT, fill: '#1a1a1a', align: 'left', verticalAlign: 'middle' } });
});

const pointSeries = (name, data, symbol, size) => ({
  name, type: 'scatter', z: 3, symbol, symbolSize: size, itemStyle: { opacity: 0.8 }, data: data.map(toPlot)
});

const chart = echarts.init(document.getElementById('chart'), null, { renderer: 'canvas' });
chart.setOption({
  backgroundColor: '#f3f3f3',
  animation: false,
  grid: { left: G.left, top: G.top, right: 1304 - G.right, bottom: 1033 - G.bottom, show: true,
    backgroundColor: '#ffffff', borderColor: '#b3b3b3', borderWidth: 1.2 },
  xAxis: {
    type: 'value', min: -0.0829, max: 1.755,
    axisLine: { show: false }, splitLine: { show: false },
    axisTick: { show: true, length: 4, lineStyle: { color: '#b3b3b3' }, customValues: sqrtBreaks },
    axisLabel: { customValues: sqrtBreaks, margin: 12, color: '#4d4d4d', fontSize: 17.5, fontFamily: FONT,
      formatter: v => String(Math.round(v * v)) }
  },
  yAxis: {
    type: 'value', min: -0.0869, max: 0.8047,
    axisLine: { show: false }, splitLine: { show: false },
    axisTick: { show: true, length: 4, lineStyle: { color: '#b3b3b3' }, customValues: yBreaks },
    axisLabel: { customValues: yBreaks, margin: 12, color: '#4d4d4d', fontSize: 17.5, fontFamily: FONT,
      formatter: v => v.toFixed(1) }
  },
  visualMap: { type: 'continuous', show: false, dimension: 2, min: meanRange[0], max: meanRange[1],
    seriesIndex: [1, 2, 3, 4], inRange: { color: meanColors } },
  graphic: graphics,
  series: [
    { type: 'scatter', z: 1, silent: true, symbolSize: 0, data: [[0, 0]],
      markLine: { silent: true, symbol: ['none', 'none'], label: { show: false }, animation: false, data: gridLines } },
    pointSeries('FALSE', cloudGenes, 'circle', 20),
    pointSeries('FALSE', cloudGenesB, 'circle', 20),
    pointSeries('FALSE', flaggedGenes, 'circle', 20),
    pointSeries('TRUE', mitoGenes, 'triangle', [28, 24])
  ]
});
</script>
</body>
</html>
